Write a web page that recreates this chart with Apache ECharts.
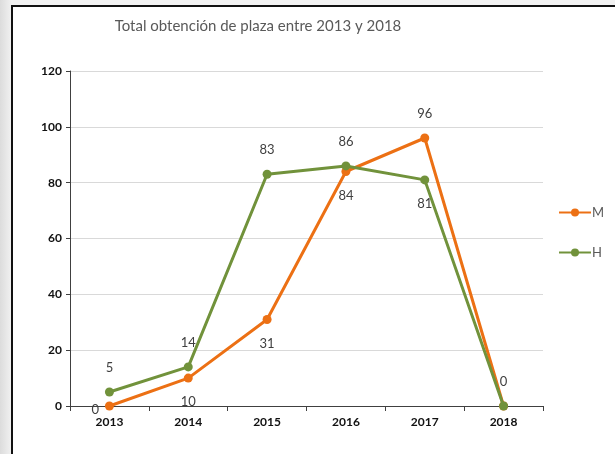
<!DOCTYPE html>
<html lang="es" style="height: 100%">
<head>
  <meta charset="utf-8">
  <script src="https://cdn.jsdelivr.net/npm/echarts@6/dist/echarts.min.js"></script>
  <style>
    body {
      height: 100%; margin: 0; background: linear-gradient(90deg, #dcdcdc, #f2f2f2 12px);
      overflow: hidden;
    }
    .frame {
      position: absolute; left: 11px; top: 5px; right: 0; bottom: 0;
      background: #fff;
      border-left: 2px solid #111;
      border-top: 2px solid #111;
    }
    #chart {
      position: absolute; left: 0; top: 0; width: 615px; height: 454px;
    }
  </style>
</head>
<body>
  <div class="frame"></div>
  <div id="chart"></div>
  <script>
    var years = ['2013', '2014', '2015', '2016', '2017', '2018'];
    var mujeres = [0, 10, 31, 84, 96, 0];
    var hombres = [5, 14, 83, 86, 81, 0];
    var yTicks = [0, 20, 40, 60, 80, 100, 120];

    // where each value label sits (Excel placed them by hand)
    var mLabelPos = ['left', 'bottom', 'bottom', 'bottom', 'top', 'none'];
    var hLabelPos = ['top', 'top', 'top', 'top', 'bottom', 'top'];

    function withLabels(values, pos) {
      return values.map(function (v, i) {
        if (pos[i] === 'none') return { value: v, label: { show: false } };
        if (pos[i] === 'left') return { value: v, label: { position: 'left', distance: 6, offset: [0, 4] } };
        return { value: v, label: { position: pos[i] } };
      });
    }

    var myChart = echarts.init(document.getElementById('chart'), null, { renderer: 'canvas' });
    var lbl = { show: true, color: '#404040', fontSize: 13, fontFamily: 'Lato, sans-serif', distance: 13 };

    var option = {
      backgroundColor: 'transparent',
      animation: false,
      title: {
        text: 'Total obtención de plaza entre 2013 y 2018',
        left: 253, top: 14, textAlign: 'center',
        textStyle: { color: '#595959', fontSize: 15, fontWeight: 'normal', fontFamily: 'Lato, sans-serif' }
      },
      legend: {
        orient: 'vertical', left: 553, top: 201, itemGap: 27,
        itemWidth: 32, itemHeight: 10,
        data: ['M', 'H'],
        textStyle: { color: '#595959', fontSize: 13, fontFamily: 'Lato, sans-serif', padding: [0, 0, 0, -4] }
      },
      grid: { left: 70, right: 72, top: 71, bottom: 48 },
      xAxis: {
        type: 'category', data: years, boundaryGap: true,
        axisLine: { lineStyle: { color: '#404040', width: 1 } },
        axisTick: { show: true, length: 5, lineStyle: { color: '#404040' } },
        axisLabel: { color: '#111', fontWeight: 'bold', fontSize: 12, margin: 10, fontFamily: 'Lato, sans-serif' }
      },
      yAxis: {
        type: 'value', min: yTicks[0], max: yTicks[yTicks.length - 1], interval: yTicks[1] - yTicks[0],
        axisLine: { show: true, lineStyle: { color: '#404040', width: 1 } },
        axisTick: { show: true, length: 4, lineStyle: { color: '#404040' } },
        axisLabel: { color: '#111', fontWeight: 'bold', fontSize: 12, margin: 8, fontFamily: 'Lato, sans-serif' },
        splitLine: { lineStyle: { color: '#d9d9d9' } }
      },
      series: [
        {
          name: 'M', type: 'line', data: withLabels(mujeres, mLabelPos),
          symbol: 'circle', symbolSize: 9,
          lineStyle: { color: '#ec7014', width: 3 },
          itemStyle: { color: '#ec7014' },
          label: lbl, z: 2
        },
        {
          name: 'H', type: 'line', data: withLabels(hombres, hLabelPos),
          symbol: 'circle', symbolSize: 9,
          lineStyle: { color: '#71923b', width: 3 },
          itemStyle: { color: '#71923b' },
          label: lbl, z: 3
        }
      ]
    };
    myChart.setOption(option);
    window.addEventListener('resize', myChart.resize);
  </script>
</body>
</html>
